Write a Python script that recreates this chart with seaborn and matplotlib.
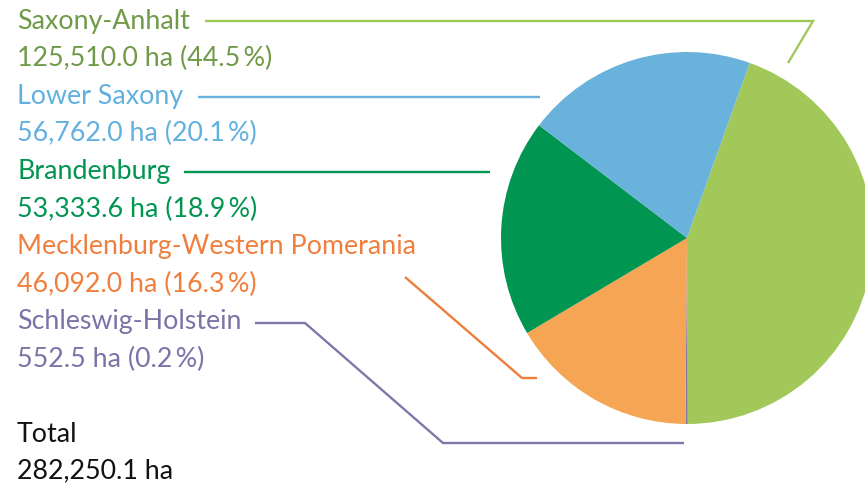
import matplotlib.pyplot as plt
import seaborn as sns

# data
states = ['Saxony-Anhalt', 'Lower Saxony', 'Brandenburg',
          'Mecklenburg-Western Pomerania', 'Schleswig-Holstein']
areas = [125510.0, 56762.0, 53333.6, 46092.0, 552.5]
pie_order = ['Saxony-Anhalt', 'Schleswig-Holstein', 'Mecklenburg-Western Pomerania',
             'Brandenburg', 'Lower Saxony']

wedge_colors = {'Saxony-Anhalt': '#a3c85a', 'Lower Saxony': '#68b2dc',
                'Brandenburg': '#009550', 'Mecklenburg-Western Pomerania': '#f5a553',
                'Schleswig-Holstein': '#7e78a8'}
text_colors = {'Saxony-Anhalt': '#6f9a47', 'Lower Saxony': '#62b0df',
               'Brandenburg': '#009550', 'Mecklenburg-Western Pomerania': '#f07f3e',
               'Schleswig-Holstein': '#7a73a6'}
line_colors = {'Saxony-Anhalt': '#a3c85a', 'Lower Saxony': '#68b2dc',
               'Brandenburg': '#009550', 'Mecklenburg-Western Pomerania': '#ef7d3a',
               'Schleswig-Holstein': '#7e78a8'}

sns.set_theme(style='white')
plt.rcParams['font.family'] = ['Lato', 'DejaVu Sans']

W, H = 865, 488
fig = plt.figure(figsize=(W / 100, H / 100), dpi=100)
ax = fig.add_axes([0, 0, 1, 1])


def py(y):
    return H - y


total = sum(areas)
vals = [areas[states.index(s)] for s in pie_order]
ax.pie(vals, colors=[wedge_colors[s] for s in pie_order], startangle=70.3,
       counterclock=False, center=(687, py(238)), radius=186,
       wedgeprops=dict(linewidth=0), frame=True)
ax.set_xlim(0, W)
ax.set_ylim(0, H)
ax.axis('off')

fs = 19.3
row = 37.6
for i, s in enumerate(states):
    y0 = 21 + 2 * i * row
    a = areas[i]
    ax.text(17, py(y0), s, color=text_colors[s], fontsize=fs, va='center', ha='left')
    ax.text(17, py(y0 + row), f'{a:,.1f} ha ({a / total * 100:.1f}\u2009%)',
            color=text_colors[s], fontsize=fs, va='center', ha='left')

# leader lines
leaders = {
    'Saxony-Anhalt': [(205, 21), (813, 21), (788, 63)],
    'Lower Saxony': [(198, 97), (540, 97)],
    'Brandenburg': [(184, 172), (490, 172)],
    'Mecklenburg-Western Pomerania': [(405, 277), (522, 378), (537, 378)],
    'Schleswig-Holstein': [(255, 323), (305, 323), (443, 443), (684, 443)],
}
for s, pts in leaders.items():
    ax.plot([p[0] for p in pts], [py(p[1]) for p in pts], color=line_colors[s], lw=1.7,
            solid_capstyle='butt', solid_joinstyle='miter')

ax.text(17, py(434), 'Total', color='#111111', fontsize=fs, va='center', ha='left')
ax.text(17, py(471), f'{total:,.1f} ha', color='#111111', fontsize=fs, va='center', ha='left')

fig.savefig('out.png', dpi=100)
